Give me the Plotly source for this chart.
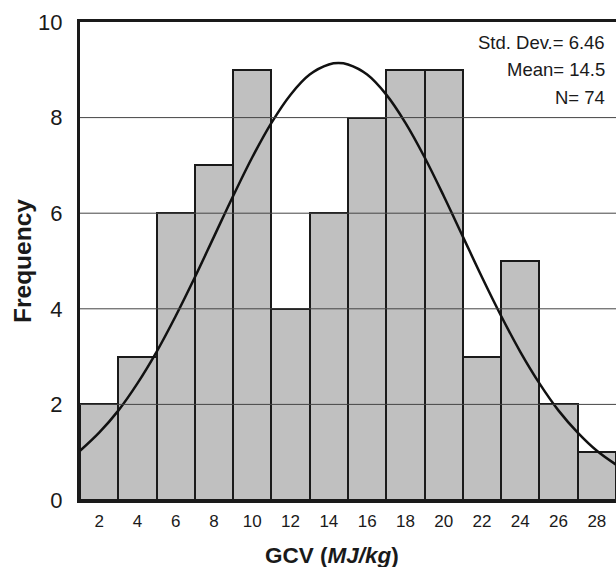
import plotly.graph_objects as go

# Data
bin_centers = [2, 4, 6, 8, 10, 12, 14, 16, 18, 20, 22, 24, 26, 28]
frequencies = [2, 3, 6, 7, 9, 4, 6, 8, 9, 9, 3, 5, 2, 1]
bin_width = 2

curve_x = [1, 2, 3, 4, 5, 6, 7, 8, 9, 10, 11, 12, 13, 14, 14.5, 15, 16, 17, 18,
           19, 20, 21, 22, 23, 24, 25, 26, 27, 28, 29]
curve_y = [1.03, 1.41, 1.87, 2.44, 3.10, 3.85, 4.66, 5.51, 6.36, 7.17, 7.89, 8.48,
           8.90, 9.11, 9.14, 9.11, 8.90, 8.48, 7.89, 7.17, 6.36, 5.51, 4.66, 3.85,
           3.10, 2.44, 1.87, 1.41, 1.03, 0.74]

x_ticks = [2, 4, 6, 8, 10, 12, 14, 16, 18, 20, 22, 24, 26, 28]
y_ticks = [0, 2, 4, 6, 8, 10]
grid_values = [2, 4, 6, 8]
stats_lines = ["Std. Dev.= 6.46", "Mean= 14.5", "N= 74"]

regular = "Liberation Sans, Arial, sans-serif"

fig = go.Figure()
fig.add_trace(go.Bar(
    x=bin_centers, y=frequencies, width=[bin_width] * len(bin_centers),
    marker=dict(color="#c0c0c0", line=dict(color="#1a1a1a", width=2)),
    showlegend=False, hoverinfo="skip",
))
fig.add_trace(go.Scatter(
    x=curve_x, y=curve_y, mode="lines", line=dict(color="#111111", width=2.5, shape="spline"),
    showlegend=False, hoverinfo="skip",
))

for g in grid_values:
    fig.add_shape(type="line", xref="paper", x0=0, x1=1, yref="y", y0=g, y1=g,
                  line=dict(color="#444444", width=1), layer="above")

for i, line in enumerate(stats_lines):
    fig.add_annotation(
        xref="paper", yref="paper", x=0.984, y=1, xanchor="right", yanchor="middle",
        yshift=-20 - 27.5 * i, text=line, align="right", showarrow=False,
        font=dict(family=regular, size=18.5, color="#1a1a1a"),
    )
fig.add_annotation(
    xref="paper", yref="paper", x=0.47, y=0, xanchor="center", yanchor="middle",
    yshift=-55, text="<b>GCV (<i>MJ/kg</i>)</b>", showarrow=False,
    font=dict(family=regular, size=22.5, color="#1a1a1a"),
)
fig.add_annotation(
    xref="paper", yref="paper", x=0, y=0.5, xanchor="center", yanchor="middle",
    xshift=-58, text="<b>Frequency</b>", textangle=-90, showarrow=False,
    font=dict(family=regular, size=24.5, color="#1a1a1a"),
)

fig.update_layout(
    width=616, height=567,
    margin=dict(l=80, r=0, t=22, b=67),
    paper_bgcolor="white", plot_bgcolor="white",
    bargap=0,
    xaxis=dict(range=[1, 29], tickvals=x_ticks, ticks="", showgrid=False,
               showline=True, linecolor="#1a1a1a", linewidth=3, mirror=True,
               zeroline=False, layer="above traces", ticklabelstandoff=4,
               tickfont=dict(family=regular, size=17, color="#1a1a1a")),
    yaxis=dict(range=[0, 10], tickvals=y_ticks, ticks="", showgrid=False,
               showline=True, linecolor="#1a1a1a", linewidth=3,
               zeroline=False, layer="above traces", ticklabelstandoff=10,
               tickfont=dict(family=regular, size=22, color="#1a1a1a")),
)

fig.write_html("out.html")
